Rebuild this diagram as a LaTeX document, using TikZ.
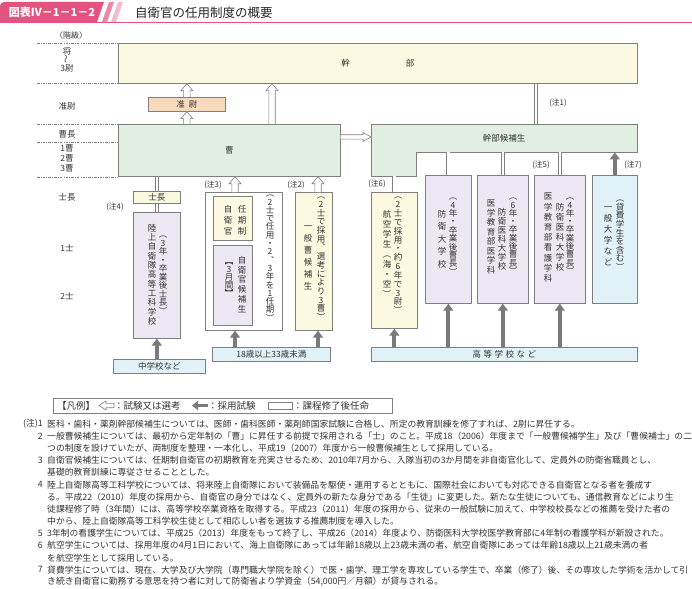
\documentclass[tikz,border=0pt]{standalone}
\usepackage{fontspec}
\usepackage{graphicx}
\setmainfont{Noto Sans CJK JP}
\usetikzlibrary{arrows.meta,calc}
\XeTeXlinebreaklocale "ja"
\XeTeXlinebreakskip=0pt plus 2pt
\definecolor{pinkc}{HTML}{E2547F}
\definecolor{bd}{HTML}{7F7F7F}
\definecolor{cream}{HTML}{FCF9E1}
\definecolor{peach}{HTML}{FAD9BB}
\definecolor{mint}{HTML}{E1EEE2}
\definecolor{lav}{HTML}{ECE8F3}
\definecolor{sky}{HTML}{E0F1F8}
\definecolor{txt}{HTML}{333333}
\definecolor{arr}{HTML}{7A7A7A}
\newcommand\vcol[2][9pt]{\vbox{\baselineskip=#1\relax\lineskiplimit=-100pt\lineskip=0pt\vcolI#2\relax}}
\def\vcolI#1{\ifx\relax#1\else\hbox to 1em{\hss#1\hss}\expandafter\vcolI\fi}
\newcommand\hup[2]{\draw[hol] let \p1=(#1), \p2=(#2) in (\x1-3.2pt,\y1) -- (\x1-3.2pt,\y2-7pt) -- (\x1-6pt,\y2-7pt) -- (\x1,\y2) -- (\x1+6pt,\y2-7pt) -- (\x1+3.2pt,\y2-7pt) -- (\x1+3.2pt,\y1);}
\newcommand\hright[2]{\draw[hol] let \p1=(#1), \p2=(#2) in (\x1,\y1+2.2pt) -- (\x2-8pt,\y1+2.2pt) -- (\x2-8pt,\y1+4.5pt) -- (\x2,\y1) -- (\x2-8pt,\y1-4.5pt) -- (\x2-8pt,\y1-2.2pt) -- (\x1,\y1-2.2pt);}
\newcommand\hleft[2]{\draw[hol] let \p1=(#1), \p2=(#2) in (\x1,\y1+2.2pt) -- (\x2+7pt,\y1+2.2pt) -- (\x2+7pt,\y1+4.5pt) -- (\x2,\y1) -- (\x2+7pt,\y1-4.5pt) -- (\x2+7pt,\y1-2.2pt) -- (\x1,\y1-2.2pt) -- cycle;}
\newcommand\jl[1]{\hbox to 636pt{#1}}
\begin{document}
\begin{tikzpicture}[x=1pt,y=-1pt,
  every node/.style={font=\fontsize{8.5pt}{10pt}\selectfont, text=txt, inner sep=0pt},
  bx/.style={draw=bd, line width=0.7pt, anchor=north west, inner sep=0pt},
  hol/.style={draw=bd, fill=white, line width=0.6pt, line join=miter},
  sarr/.style={draw=arr, line width=4pt, -{Triangle[width=10pt,length=7pt]}},
  dbl/.style={draw=bd, double=white, double distance=2.6pt, line width=0.6pt},
  chu/.style={font=\fontsize{7.8pt}{9pt}\selectfont},
  lgt/.style={anchor=west, font=\fontsize{9.5pt}{10pt}\selectfont},
  note/.style={anchor=west, font=\fontsize{8.8pt}{10pt}\selectfont},
  num/.style={anchor=east, font=\fontsize{8.8pt}{10pt}\selectfont},
  vt/.style={anchor=north}]
\useasboundingbox (0,0) rectangle (692,588);
% header
\fill[pinkc] (0,22) [rounded corners=4pt] -- (0,2) [sharp corners] -- (104,2) -- (97,22) -- cycle;
\fill[pinkc!70] (109,2) -- (114,2) -- (107,22) -- (102,22) -- cycle;
\fill[pinkc!40] (118,2) -- (123,2) -- (116,22) -- (111,22) -- cycle;
\draw[pinkc, line width=1.6pt] (0,22.5) -- (692,22.5);
\node[text=white, font=\fontsize{11pt}{12pt}\selectfont\bfseries] (hd) at (52,12) {図表Ⅳ－1－1－2};
\node[anchor=west, font=\fontsize{12.5pt}{13pt}\selectfont, text=black!85] (ttl) at (135,12.5) {自衛官の任用制度の概要};
% rank axis
\foreach \yy in {43,83,124,142,177}
  \draw[bd, line width=0.6pt, dash pattern=on 2.5pt off 1.2pt on 0.8pt off 1.2pt] (37,\yy) -- (117,\yy);
\node[font=\fontsize{8pt}{9pt}\selectfont] (kk) at (71,35) {〈階級〉};
\node (r1) at (67,51) {将};
\node (r2) at (67,59.5) {\rotatebox{90}{～}};
\node (r3) at (67,68) {3尉};
\node (r4) at (67,106) {准尉};
\node (r5) at (67,134) {曹長};
\node (r6) at (67,148) {1曹};
\node (r7) at (67,158) {2曹};
\node (r8) at (67,168) {3曹};
\node (r9) at (67,197) {士長};
\node (r10) at (67,248) {1士};
\node (r11) at (67,296) {2士};
% boxes
\node[bx, fill=cream, minimum width=519pt, minimum height=40pt] (kanbu) at (118,43) {幹\hspace{56pt}部};
\node[bx, fill=peach, minimum width=77pt, minimum height=14pt] (junsa) at (148,97) {准\hspace{4pt}尉};
\node[bx, fill=mint, minimum width=222pt, minimum height=52pt] (soh) at (118,124) {曹};
\path[draw=bd, fill=mint, line width=0.7pt] (371,124) -- (637,124) -- (637,152) -- (416,152) -- (416,176) -- (371,176) -- cycle;
\node[anchor=north west, minimum width=266pt, minimum height=28pt] (kc) at (371,124) {幹部候補生};
\node[anchor=north west, minimum width=45pt, minimum height=24pt] (kcl) at (371,152) {};
\node[bx, fill=cream, minimum width=47pt, minimum height=12pt] (shicho) at (133,191) {士長};
\node[bx, fill=lav, minimum width=47pt, minimum height=126pt] (rikujo) at (133,212) {};
\node[bx, fill=white, minimum width=77pt, minimum height=138pt] (ninki) at (205,192) {};
\node[bx, fill=cream, minimum width=39pt, minimum height=44pt] (ninkisei) at (213,196) {};
\node[bx, fill=lav, minimum width=39pt, minimum height=80pt] (jikoho) at (213,245) {};
\node[bx, fill=cream, minimum width=37pt, minimum height=138pt] (ippan) at (295,192) {};
\node[bx, fill=sky, minimum width=92pt, minimum height=14pt] (chugaku) at (113,359) {中学校など};
\node[bx, fill=sky, minimum width=118pt, minimum height=14pt] (age18) at (212,347) {18歳以上33歳未満};
\node[bx, fill=cream, minimum width=46pt, minimum height=136pt] (kouku) at (371,192) {};
\node[bx, fill=lav, minimum width=46pt, minimum height=128pt] (boudai) at (425,175) {};
\node[bx, fill=lav, minimum width=51pt, minimum height=128pt] (idai) at (477,175) {};
\node[bx, fill=lav, minimum width=51pt, minimum height=128pt] (kango) at (534,175) {};
\node[bx, fill=sky, minimum width=45pt, minimum height=128pt] (daigaku) at (592,175) {};
\node[bx, fill=sky, minimum width=266pt, minimum height=14pt] (koukou) at (371,347) {高\hspace{2.5pt}等\hspace{2.5pt}学\hspace{2.5pt}校\hspace{2.5pt}な\hspace{2.5pt}ど};
% vertical texts
\node[vt] (t1) at (152,224) {\vcol[9.3pt]{陸上自衛隊高等工科学校}};
\node[vt] (t2) at (163,236) {\vcol[8.5pt]{︵3年・卒業後士長︶}};
\node[vt] (t3) at (242,205) {\vcol[11pt]{任期制}};
\node[vt] (t4) at (228,205) {\vcol[11pt]{自衛官}};
\node[vt] (t5) at (242,256) {\vcol[9.8pt]{自衛官候補生}};
\node[vt] (t6) at (229,262) {\vcol[8pt]{︻3月間︼}};
\node[vt] (t7) at (270,195) {\vcol[8.3pt]{︵2士で任用・2︑3年を1任期︶}};
\node[vt] (t8) at (308,226) {\vcol[12pt]{一般曹候補生}};
\node[vt] (t9) at (321,197) {\vcol[8.7pt]{︵2士で採用︑選考により3曹︶}};
\node[vt] (t10) at (387,210) {\vcol[10pt]{航空学生︵海・空︶}};
\node[vt] (t11) at (398,197) {\vcol[8.85pt]{︵2士で採用・約6年で3尉︶}};
\node[vt] (t12) at (442,210) {\vcol[12.5pt]{防衛大学校}};
\node[vt] (t13) at (453,198) {\vcol[8.4pt]{︵4年・卒業後曹長︶}};
\node[vt] (t14) at (491,200) {\vcol[9.5pt]{医学教育部医学科}};
\node[vt] (t15) at (502,208) {\vcol[9pt]{防衛医科大学校}};
\node[vt] (t16) at (513,198) {\vcol[8.3pt]{︵6年・卒業後曹長︶}};
\node[vt] (t17) at (548,193) {\vcol[10.2pt]{医学教育部看護学科}};
\node[vt] (t18) at (560,203) {\vcol[10pt]{防衛医科大学校}};
\node[vt] (t19) at (570,198) {\vcol[8.3pt]{︵4年・卒業後曹長︶}};
\node[vt] (t20) at (608,207) {\vcol[11pt]{一般大学など}};
\node[vt] (t21) at (620,200) {\vcol[8.6pt]{︵貸費学生を含む︶}};
% connectors
\hup{soh.north -| junsa.south}{junsa.south}
\hup{junsa.north}{kanbu.south -| junsa.north}
\coordinate (c3) at ($(soh.north west)+(154,0)$);
\hup{c3}{kanbu.south -| c3}
\coordinate (c4) at ($(soh.north east)+(0,13)$);
\hright{c4}{kc.west}
\coordinate (c5) at ($(kc.north west)+(165,0)$);
\draw[dbl] (kanbu.south -| c5) -- (c5);
\draw[dbl] (soh.south -| shicho.north) -- (shicho.north);
\draw[dbl] (shicho.south) -- (rikujo.north);
\draw[sarr] (chugaku.north -| rikujo.south) -- (rikujo.south);
\coordinate (c9) at ($(ninki.north west)+(30,0)$);
\hup{c9}{soh.south -| c9}
\draw[sarr] (age18.north -| c9) -- (ninki.south -| c9);
\coordinate (c11) at ($(ippan.north west)+(23,0)$);
\hup{c11}{soh.south -| c11}
\draw[sarr] (age18.north -| c11) -- (ippan.south -| c11);
\draw[dbl] (kcl.south -| kouku.north) -- (kouku.north);
\draw[sarr] (koukou.north -| kouku.south) -- (kouku.south);
\foreach \b in {boudai,idai,kango}{
  \draw[dbl] (kc.south -| \b.north) -- (\b.north);
  \draw[sarr] (koukou.north -| \b.south) -- (\b.south);
}
\draw[sarr] (daigaku.north) -- (kc.south -| daigaku.north);
% note marks
\node[chu] (m1) at (558,103) {(注1)};
\node[chu] (m2) at (296,185) {(注2)};
\node[chu] (m3) at (213,185) {(注3)};
\node[chu] (m4) at (115,207) {(注4)};
\node[chu] (m5) at (541,165) {(注5)};
\node[chu] (m6) at (377,184) {(注6)};
\node[chu] (m7) at (633,165) {(注7)};
% legend
\node[bx, fill=white, minimum width=339pt, minimum height=15pt] (lg) at (53,398) {};
\node[lgt] (lg1) at (57,405.5) {【凡例】};
\coordinate (lga) at (99,405.5); \coordinate (lgb) at (114,405.5);
\hleft{lgb}{lga}
\node[lgt] (lg2) at (114,405.5) {：試験又は選考};
\coordinate (lgc) at (208,405.5); \coordinate (lgd) at (192,405.5);
\draw[sarr, line width=3.5pt, -{Triangle[width=9pt,length=6pt]}] (lgc) -- (lgd);
\node[lgt] (lg3) at (208,405.5) {：採用試験};
\node[bx, fill=white, minimum width=24pt, minimum height=7pt] (lg4) at (268,402) {};
\node[lgt] (lg5) at (293,405.5) {：課程修了後任命};
% notes
\node[num] (z1) at (43,424) {(注)1};
\node[note] (n1) at (47,424) {医科・歯科・薬剤幹部候補生については、医師・歯科医師・薬剤師国家試験に合格し、所定の教育訓練を修了すれば、2尉に昇任する。};
\node[num] (z2) at (43,436.15) {2};
\node[note] (n2) at (47,436.15) {\jl{一般曹候補生については、最初から定年制の「曹」に昇任する前提で採用される「士」のこと。平成18（2006）年度まで「一般曹候補学生」及び「曹候補士」の二}};
\node[note] (n2b) at (47,448.3) {つの制度を設けていたが、両制度を整理・一本化し、平成19（2007）年度から一般曹候補生として採用している。};
\node[num] (z3) at (43,460.45) {3};
\node[note] (n3) at (47,460.45) {\jl{自衛官候補生については、任期制自衛官の初期教育を充実させるため、2010年7月から、入隊当初の3か月間を非自衛官化して、定員外の防衛省職員とし、}};
\node[note] (n3b) at (47,472.6) {基礎的教育訓練に専従させることとした。};
\node[num] (z4) at (43,484.75) {4};
\node[note] (n4) at (47,484.75) {\jl{陸上自衛隊高等工科学校については、将来陸上自衛隊において装備品を駆使・運用するとともに、国際社会においても対応できる自衛官となる者を養成す}};
\node[note] (n4b) at (47,496.9) {\jl{る。平成22（2010）年度の採用から、自衛官の身分ではなく、定員外の新たな身分である「生徒」に変更した。新たな生徒についても、通信教育などにより生}};
\node[note] (n4c) at (47,509.05) {\jl{徒課程修了時（3年間）には、高等学校卒業資格を取得する。平成23（2011）年度の採用から、従来の一般試験に加えて、中学校校長などの推薦を受けた者の}};
\node[note] (n4d) at (47,521.2) {中から、陸上自衛隊高等工科学校生徒として相応しい者を選抜する推薦制度を導入した。};
\node[num] (z5) at (43,533.35) {5};
\node[note] (n5) at (47,533.35) {3年制の看護学生については、平成25（2013）年度をもって終了し、平成26（2014）年度より、防衛医科大学校医学教育部に4年制の看護学科が新設された。};
\node[num] (z6) at (43,545.5) {6};
\node[note] (n6) at (47,545.5) {\jl{航空学生については、採用年度の4月1日において、海上自衛隊にあっては年齢18歳以上23歳未満の者、航空自衛隊にあっては年齢18歳以上21歳未満の者}};
\node[note] (n6b) at (47,557.65) {を航空学生として採用している。};
\node[num] (z7) at (43,569.8) {7};
\node[note] (n7) at (47,569.8) {\jl{貸費学生については、現在、大学及び大学院（専門職大学院を除く）で医・歯学、理工学を専攻している学生で、卒業（修了）後、その専攻した学術を活かして引}};
\node[note] (n7b) at (47,581.95) {き続き自衛官に勤務する意思を持つ者に対して防衛省より学資金（54,000円／月額）が貸与される。};
\end{tikzpicture}
\end{document}
